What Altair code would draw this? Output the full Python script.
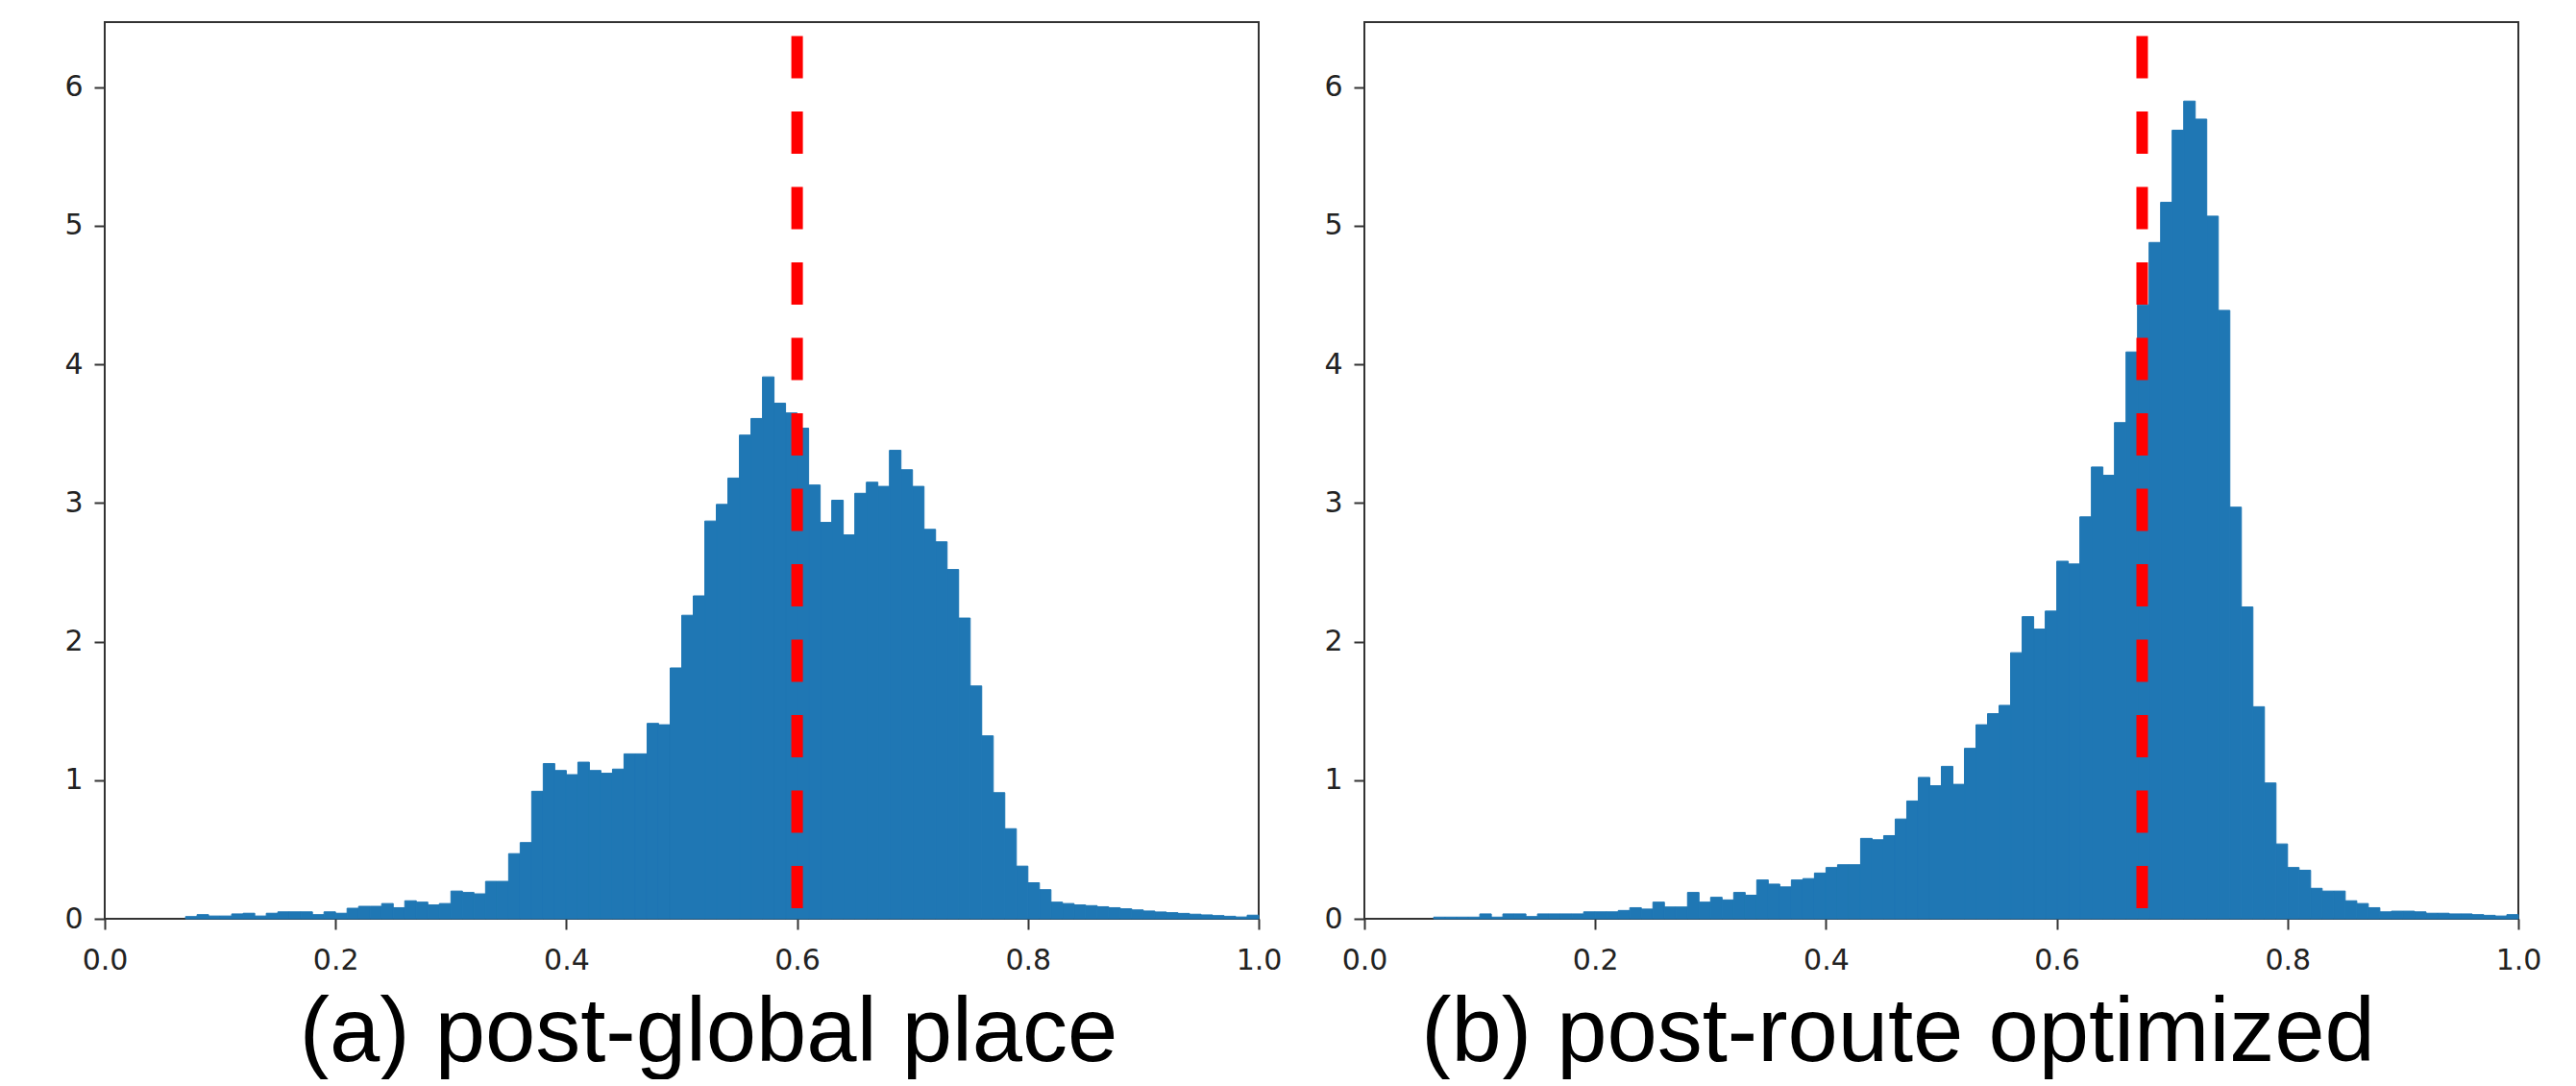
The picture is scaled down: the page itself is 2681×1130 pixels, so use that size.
import altair as alt
import pandas as pd

# ---------------- data ----------------
BIN_EDGES = [round(i * 0.01, 2) for i in range(101)]

GLOBAL_PLACE = [
    0, 0, 0, 0, 0, 0, 0, 0.016, 0.03, 0.02,
    0.02, 0.035, 0.04, 0.02, 0.04, 0.05, 0.05, 0.05, 0.03, 0.05,
    0.04, 0.076, 0.09, 0.09, 0.11, 0.08, 0.13, 0.12, 0.10, 0.11,
    0.20, 0.19, 0.18, 0.27, 0.27, 0.47, 0.55, 0.92, 1.12, 1.07,
    1.04, 1.13, 1.07, 1.05, 1.08, 1.19, 1.19, 1.41, 1.40, 1.81,
    2.19, 2.33, 2.87, 2.99, 3.18, 3.49, 3.61, 3.91, 3.72, 3.65,
    3.54, 3.13, 2.86, 3.02, 2.77, 3.07, 3.15, 3.12, 3.38, 3.24,
    3.12, 2.81, 2.72, 2.52, 2.17, 1.68, 1.32, 0.91, 0.65, 0.38,
    0.26, 0.21, 0.12, 0.11, 0.10, 0.095, 0.087, 0.08, 0.072, 0.064,
    0.056, 0.049, 0.044, 0.039, 0.033, 0.028, 0.023, 0.018, 0.013, 0.026,
]

ROUTE_OPT = [
    0, 0, 0, 0, 0, 0, 0.012, 0.012, 0.012, 0.012,
    0.035, 0.012, 0.035, 0.035, 0.016, 0.035, 0.035, 0.035, 0.035, 0.05,
    0.05, 0.05, 0.06, 0.08, 0.07, 0.12, 0.085, 0.085, 0.19, 0.12,
    0.155, 0.136, 0.19, 0.17, 0.28, 0.25, 0.23, 0.28, 0.29, 0.33,
    0.37, 0.39, 0.39, 0.58, 0.57, 0.60, 0.72, 0.85, 1.02, 0.96,
    1.10, 0.97, 1.23, 1.40, 1.48, 1.54, 1.92, 2.18, 2.09, 2.22,
    2.58, 2.56, 2.90, 3.26, 3.20, 3.58, 4.09, 4.43, 4.88, 5.17,
    5.69, 5.90, 5.77, 5.07, 4.39, 2.97, 2.25, 1.53, 0.98, 0.54,
    0.37, 0.35, 0.22, 0.20, 0.20, 0.13, 0.11, 0.08, 0.05, 0.055,
    0.055, 0.05, 0.04, 0.04, 0.035, 0.035, 0.03, 0.025, 0.02, 0.03,
]

MEDIANS = [0.600, 0.674]          # red dashed reference lines
LINE_TOP = 6.37                   # upper end of the dashed lines
Y_MAX = 6.47
X_TICKS = [0.0, 0.2, 0.4, 0.6, 0.8, 1.0]
Y_TICKS = [0, 1, 2, 3, 4, 5, 6]
CAPTIONS = ["(a) post-global place", "(b) post-route optimized"]
CAPTION_CENTER = [628, 555]

BLUE = "#1f77b4"


def panel(values, med, caption, cap_x):
    df = pd.DataFrame({"x0": BIN_EDGES[:-1], "x1": BIN_EDGES[1:], "v": values})
    df = df[df["v"] > 0]

    xaxis = alt.Axis(values=X_TICKS, format=".1f", labelFlush=False,
                     title=caption, titleX=cap_x, titleY=147,
                     titleAlign="center", titleBaseline="alphabetic")
    yaxis = alt.Axis(values=Y_TICKS, format="d", title=None)
    xscale = alt.Scale(domain=[0, 1], nice=False, zero=False)
    yscale = alt.Scale(domain=[0, Y_MAX], nice=False)

    bars = alt.Chart(df).mark_bar(color=BLUE, stroke=BLUE, strokeWidth=1).encode(
        x=alt.X("x0:Q", scale=xscale, axis=xaxis),
        x2="x1:Q",
        y=alt.Y("v:Q", scale=yscale, axis=yaxis),
        y2=alt.datum(0),
    )

    rdf = pd.DataFrame({"x0": [med], "v": [LINE_TOP]})
    rule = alt.Chart(rdf).mark_rule(color="#ff0000", strokeWidth=12,
                                    strokeDash=[44, 34.5]).encode(
        x=alt.X("x0:Q", scale=xscale, axis=xaxis),
        y=alt.Y("v:Q", scale=yscale, axis=yaxis),
        y2=alt.datum(0),
    )
    return alt.layer(bars, rule).properties(width=1201, height=933)


left = panel(GLOBAL_PLACE, MEDIANS[0], CAPTIONS[0], CAPTION_CENTER[0])
right = panel(ROUTE_OPT, MEDIANS[1], CAPTIONS[1], CAPTION_CENTER[1])

chart = (
    alt.hconcat(left, right, spacing=110, bounds="flush")
    .properties(padding={"left": 65, "top": 22, "right": 20, "bottom": 0},
                background="white")
    .configure_view(stroke="#333333", strokeWidth=2)
    .configure_axis(domain=False, grid=False, ticks=True, tickColor="#333333",
                    tickWidth=2, tickSize=11, labelFont="DejaVu Sans",
                    labelFontSize=30, labelColor="#222222",
                    titleFont="Liberation Sans", titleFontSize=94,
                    titleFontWeight="normal", titleColor="#000000")
    .configure_axisX(labelPadding=17)
    .configure_axisY(labelPadding=12)
)

chart.save("out.html", embed_options={"renderer": "svg", "actions": False})
